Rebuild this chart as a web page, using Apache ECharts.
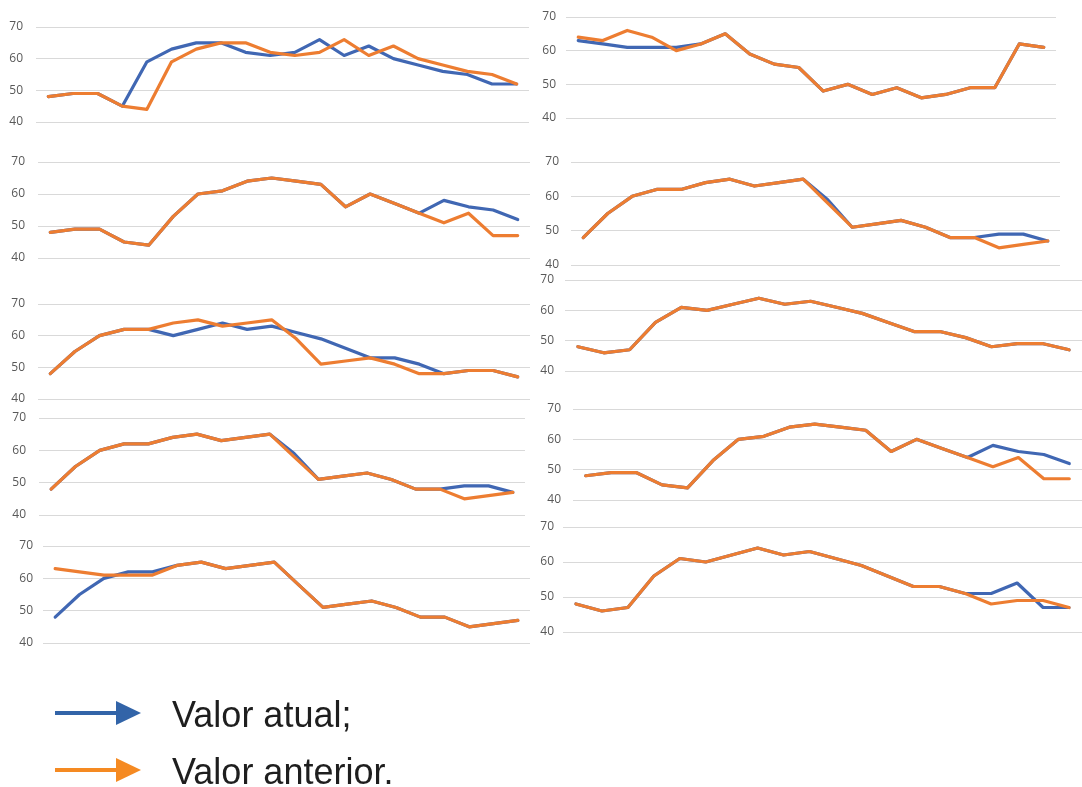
<!DOCTYPE html>
<html>
<head>
<meta charset="utf-8">
<title>Valor atual e valor anterior</title>
<script src="https://cdn.jsdelivr.net/npm/echarts@6/dist/echarts.min.js"></script>
<style>
  html, body { margin: 0; padding: 0; background: #ffffff; }
  #chart { width: 1082px; height: 787px; }
</style>
</head>
<body>
<div id="chart"></div>
<script>
// Períodos (eixo X sem rótulos)
const periodos = ['1','2','3','4','5','6','7','8','9','10','11','12','13','14','15','16','17','18','19','20'];

// Marcas do eixo Y
const yTicks = [40, 50, 60, 70];

// Painel 1 (superior esquerdo)
const atual1    = [48,49,49,45,59,63,65,65,62,61,62,66,61,64,60,58,56,55,52,52];
const anterior1 = [48,49,49,45,44,59,63,65,65,62,61,62,66,61,64,60,58,56,55,52];
// Painel 2 (superior direito)
const atual2    = [63,62,61,61,61,62,65,59,56,55,48,50,47,49,46,47,49,49,62,61];
const anterior2 = [64,63,66,64,60,62,65,59,56,55,48,50,47,49,46,47,49,49,62,61];
// Painel 3
const atual3    = [48,49,49,45,44,53,60,61,64,65,64,63,56,60,57,54,58,56,55,52];
const anterior3 = [48,49,49,45,44,53,60,61,64,65,64,63,56,60,57,54,51,54,47,47];
// Painel 4
const atual4    = [48,55,60,62,62,64,65,63,64,65,59,51,52,53,51,48,48,49,49,47];
const anterior4 = [48,55,60,62,62,64,65,63,64,65,58,51,52,53,51,48,48,45,46,47];
// Painel 5
const atual5    = [48,55,60,62,62,60,62,64,62,63,61,59,56,53,53,51,48,49,49,47];
const anterior5 = [48,55,60,62,62,64,65,63,64,65,59,51,52,53,51,48,48,49,49,47];
// Painel 6
const atual6    = [48,46,47,56,61,60,62,64,62,63,61,59,56,53,53,51,48,49,49,47];
const anterior6 = [48,46,47,56,61,60,62,64,62,63,61,59,56,53,53,51,48,49,49,47];
// Painel 7
const atual7    = [48,55,60,62,62,64,65,63,64,65,59,51,52,53,51,48,48,49,49,47];
const anterior7 = [48,55,60,62,62,64,65,63,64,65,58,51,52,53,51,48,48,45,46,47];
// Painel 8
const atual8    = [48,49,49,45,44,53,60,61,64,65,64,63,56,60,57,54,58,56,55,52];
const anterior8 = [48,49,49,45,44,53,60,61,64,65,64,63,56,60,57,54,51,54,47,47];
// Painel 9 (inferior esquerdo)
const atual9    = [48,55,60,62,62,64,65,63,64,65,58,51,52,53,51,48,48,45,46,47];
const anterior9 = [63,62,61,61,61,64,65,63,64,65,58,51,52,53,51,48,48,45,46,47];
// Painel 10 (inferior direito)
const atual10    = [48,46,47,56,61,60,62,64,62,63,61,59,56,53,53,51,51,54,47,47];
const anterior10 = [48,46,47,56,61,60,62,64,62,63,61,59,56,53,53,51,48,49,49,47];

const seriesAtual    = [atual1, atual2, atual3, atual4, atual5, atual6, atual7, atual8, atual9, atual10];
const seriesAnterior = [anterior1, anterior2, anterior3, anterior4, anterior5, anterior6, anterior7, anterior8, anterior9, anterior10];

const legendaAtual = 'Valor atual;';
const legendaAnterior = 'Valor anterior.';

// Posição de cada painel: left, top (linha 70), width, height (70 → 40), margem do rótulo
const painel = [
  { left: 36,  top: 27,  width: 493, height: 95,  margin: 13 },
  { left: 566, top: 17,  width: 490, height: 101, margin: 10 },
  { left: 38,  top: 162, width: 492, height: 96,  margin: 13 },
  { left: 571, top: 162, width: 489, height: 103, margin: 12 },
  { left: 38,  top: 304, width: 492, height: 95,  margin: 13 },
  { left: 565, top: 280, width: 520, height: 91,  margin: 11 },
  { left: 39,  top: 418, width: 486, height: 97,  margin: 13 },
  { left: 573, top: 409, width: 524, height: 91,  margin: 12 },
  { left: 43,  top: 546, width: 487, height: 97,  margin: 10 },
  { left: 563, top: 527, width: 532, height: 105, margin: 9 }
];

const AZUL = '#4067B3';
const LARANJA = '#ED7D31';
const AZUL_SETA = '#3264A8';
const LARANJA_SETA = '#F58A22';

const grid = [], xAxis = [], yAxis = [], series = [];
painel.forEach((p, i) => {
  grid.push({ left: p.left, top: p.top, width: p.width, height: p.height, containLabel: false });
  xAxis.push({
    type: 'category', gridIndex: i, data: periodos, boundaryGap: true,
    axisLine: { show: false }, axisTick: { show: false }, axisLabel: { show: false },
    splitLine: { show: false }
  });
  yAxis.push({
    type: 'value', gridIndex: i,
    min: yTicks[0], max: yTicks[yTicks.length - 1], interval: yTicks[1] - yTicks[0],
    axisLine: { show: false }, axisTick: { show: false },
    axisLabel: { color: '#595959', fontSize: 12, fontFamily: 'Open Sans', margin: p.margin },
    splitLine: { lineStyle: { color: '#D9D9D9', width: 1.2 } }
  });
  series.push({
    name: legendaAtual, type: 'line', xAxisIndex: i, yAxisIndex: i,
    data: seriesAtual[i], symbol: 'none', z: 2,
    lineStyle: { color: AZUL, width: 3.2, join: 'round', cap: 'round' }
  });
  series.push({
    name: legendaAnterior, type: 'line', xAxisIndex: i, yAxisIndex: i,
    data: seriesAnterior[i], symbol: 'none', z: 3,
    lineStyle: { color: LARANJA, width: 3.2, join: 'round', cap: 'round' }
  });
});

// Legenda com setas
function seta(y, cor) {
  return [
    { type: 'line', shape: { x1: 55, y1: y, x2: 120, y2: y }, style: { stroke: cor, lineWidth: 4 } },
    { type: 'polygon', shape: { points: [[116, y - 12], [141, y], [116, y + 12]] }, style: { fill: cor } }
  ];
}
const graphic = [
  ...seta(713, AZUL_SETA),
  { type: 'text', left: 172, top: 699, style: { text: legendaAtual, fill: '#1E1E1E', font: '36px "Liberation Sans", Arial, sans-serif' } },
  ...seta(770, LARANJA_SETA),
  { type: 'text', left: 172, top: 756, style: { text: legendaAnterior, fill: '#1E1E1E', font: '36px "Liberation Sans", Arial, sans-serif' } }
];

const chart = echarts.init(document.getElementById('chart'), null, { renderer: 'canvas' });
chart.setOption({
  animation: false,
  backgroundColor: '#ffffff',
  grid, xAxis, yAxis, series, graphic
});
</script>
</body>
</html>
